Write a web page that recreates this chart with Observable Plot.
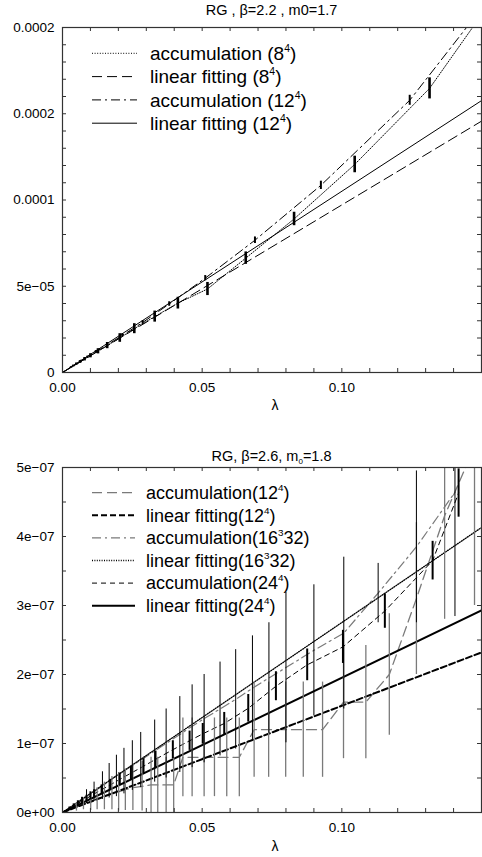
<!DOCTYPE html>
<html><head><meta charset="utf-8">
<script src="https://cdn.jsdelivr.net/npm/d3@7"></script>
<script src="https://cdn.jsdelivr.net/npm/@observablehq/plot@0.6"></script>
<style>
body{margin:0;background:#fff;font-family:"Liberation Sans",Arial,sans-serif}
#c svg{display:block}
</style>
</head><body><div id="c"></div>
<script>
// ---------- Top panel: RG, beta=2.2, m0=1.7 ----------
const lam8  = [0, 0.0031, 0.0039, 0.0050, 0.0063, 0.0079, 0.0100, 0.0127, 0.0160, 0.0205, 0.0257, 0.0330, 0.0413, 0.0519, 0.0656, 0.0829, 0.1046, 0.1314, 0.1660];
const acc8  = [0, 3.0e-6, 3.8e-6, 4.9e-6, 6.1e-6, 7.7e-6, 9.7e-6, 1.23e-5, 1.56e-5, 2.0e-5, 2.54e-5, 3.24e-5, 4.02e-5, 4.84e-5, 6.63e-5, 8.9e-5, 1.206e-4, 1.647e-4, 2.44e-4];
const err8  = [0, 0.4e-6, 0.5e-6, 0.6e-6, 0.8e-6, 1.0e-6, 1.2e-6, 1.5e-6, 1.8e-6, 2.5e-6, 2.9e-6, 3.2e-6, 3.4e-6, 3.8e-6, 3.6e-6, 3.9e-6, 4.8e-6, 6.1e-6, 7e-6];
const lam12 = [0, 0.0037, 0.0049, 0.0066, 0.0089, 0.0119, 0.0160, 0.0214, 0.0287, 0.0382, 0.0511, 0.0689, 0.0925, 0.1243, 0.1668];
const acc12 = [0, 3.7e-6, 4.9e-6, 6.6e-6, 8.9e-6, 1.2e-5, 1.6e-5, 2.15e-5, 2.9e-5, 3.97e-5, 5.47e-5, 7.67e-5, 1.085e-4, 1.578e-4, 2.46e-4];
const err12 = [0, 0.3e-6, 0.4e-6, 0.5e-6, 0.6e-6, 0.7e-6, 0.8e-6, 1.0e-6, 1.1e-6, 1.3e-6, 1.5e-6, 1.9e-6, 2.4e-6, 2.9e-6, 3.5e-6];
const fitLamTop = [0, 0.15];
const fit8Top   = [0, 1.457e-4];
const fit12Top  = [0, 1.576e-4];
const topYTicks = [0, 5e-5, 1e-4, 1.5e-4, 2e-4];
const topYTickLabels = ["0", "5e\u221205", "0.0001", "0.0002", "0.0002"];

// ---------- Bottom panel: RG, beta=2.6, m0=1.8 ----------
const lamB12 = [0, 0.0050, 0.0075, 0.0101, 0.0124, 0.0150, 0.0177, 0.0201, 0.0225, 0.0252, 0.0285, 0.0317, 0.0341, 0.0371, 0.0398, 0.0431, 0.0464, 0.0507, 0.0544, 0.0588, 0.0633, 0.0686, 0.0738, 0.0799, 0.0862, 0.0931, 0.1006, 0.1086, 0.1170, 0.1267, 0.1368, 0.1475];
const accB12 = [0, 0.8e-8, 1.2e-8, 1.6e-8, 2.0e-8, 2.4e-8, 2.8e-8, 3.0e-8, 3.3e-8, 3.6e-8, 3.8e-8, 4e-8, 4e-8, 4e-8, 4e-8, 8e-8, 8e-8, 8e-8, 8e-8, 8e-8, 8e-8, 12e-8, 12e-8, 12e-8, 12e-8, 12e-8, 16e-8, 16e-8, 20e-8, 31e-8, 43e-8, 53e-8];
const errB12 = [0, 0.6e-8, 0.8e-8, 1.3e-8, 1.6e-8, 2.0e-8, 2.4e-8, 2.8e-8, 3.0e-8, 3.3e-8, 3.6e-8, 4e-8, 4e-8, 4e-8, 4e-8, 5.7e-8, 5.7e-8, 5.7e-8, 5.7e-8, 5.7e-8, 5.7e-8, 6.9e-8, 6.9e-8, 6.9e-8, 6.9e-8, 6.9e-8, 8.2e-8, 8.2e-8, 8.8e-8, 11e-8, 15e-8, 23e-8];
const lamB16 = [0, 0.0086, 0.0113, 0.0143, 0.0167, 0.0193, 0.0220, 0.0250, 0.0280, 0.0330, 0.0371, 0.0420, 0.0464, 0.0507, 0.0564, 0.0620, 0.0680, 0.0739, 0.0800, 0.0900, 0.1007, 0.1130, 0.1267, 0.1405];
const accB16 = [0, 2.3e-8, 3.0e-8, 3.9e-8, 4.6e-8, 5.3e-8, 6.0e-8, 6.8e-8, 7.6e-8, 8.9e-8, 1.0e-7, 1.13e-7, 1.25e-7, 1.36e-7, 1.5e-7, 1.64e-7, 1.8e-7, 1.95e-7, 2.1e-7, 2.35e-7, 2.6e-7, 3.18e-7, 3.85e-7, 4.64e-7];
const errB16 = [0, 1.0e-8, 1.4e-8, 2.0e-8, 2.5e-8, 3.0e-8, 3.3e-8, 3.6e-8, 4.0e-8, 4.5e-8, 5.0e-8, 5.5e-8, 6.0e-8, 6.4e-8, 6.8e-8, 7.2e-8, 7.6e-8, 8.0e-8, 10.9e-8, 9.5e-8, 11e-8, 4.3e-8, 11e-8, 18e-8];
const lamB24 = [0, 0.0025, 0.0040, 0.0055, 0.0070, 0.0086, 0.0100, 0.0113, 0.0140, 0.0171, 0.0205, 0.0245, 0.0290, 0.0333, 0.0395, 0.0455, 0.0502, 0.0579, 0.0665, 0.0764, 0.0876, 0.1004, 0.1154, 0.1325, 0.1418];
const accB24 = [0, 0.6e-8, 0.95e-8, 1.3e-8, 1.7e-8, 2.0e-8, 2.4e-8, 2.7e-8, 3.3e-8, 4.0e-8, 4.8e-8, 5.7e-8, 6.7e-8, 7.7e-8, 9.1e-8, 10.4e-8, 11.4e-8, 12.9e-8, 15.1e-8, 18.3e-8, 21.4e-8, 24.0e-8, 29.2e-8, 36.5e-8, 46.3e-8];
const errB24 = [0, 0.2e-8, 0.3e-8, 0.4e-8, 0.5e-8, 0.5e-8, 0.6e-8, 0.6e-8, 0.7e-8, 0.8e-8, 0.9e-8, 1.0e-8, 1.1e-8, 1.2e-8, 1.3e-8, 1.4e-8, 1.5e-8, 1.6e-8, 2.0e-8, 2.1e-8, 2.3e-8, 2.4e-8, 2.5e-8, 2.8e-8, 3.5e-8];
const fitLamBot = [0, 0.15];
const fitB12 = [0, 2.32e-7];
const fitB16 = [0, 4.13e-7];
const fitB24 = [0, 2.93e-7];
const botYTicks = [0, 1e-7, 2e-7, 3e-7, 4e-7, 5e-7];
const botYTickLabels = ["0e+00", "1e\u221207", "2e\u221207", "3e\u221207", "4e\u221207", "5e\u221207"];

const xTicks = [0, 0.05, 0.10];
const xTickLabels = ["0.00", "0.05", "0.10"];

// ---------- helpers ----------
const rows = (xs, ys, es) => xs.map((x, i) => ({x, y: ys[i], e: es ? es[i] : 0}));
const FONT = "Liberation Sans, Arial, Helvetica, sans-serif";

function panel(cfg) {
  const W = 482, ML = 62, MR = 1;
  const FW = W - ML - MR, FH = cfg.height - cfg.marginTop - cfg.marginBottom;
  const xMinor = d3.range(0, 0.1501, 0.01);
  const yMinor = d3.range(cfg.yDomain[0], cfg.yDomain[1] * 1.0001, cfg.yMinorStep);
  const marks = [];
  for (const s of cfg.series) {
    marks.push(Plot.line(s.data, {x: "x", y: "y", stroke: s.stroke, strokeWidth: s.lw, strokeDasharray: s.dash, clip: true}));
  }
  for (const s of cfg.series) {
    if (!s.bar) continue;
    marks.push(Plot.ruleX(s.data.filter(d => d.e > 0), {x: "x", y1: d => d.y - d.e, y2: d => d.y + d.e, stroke: s.bar.stroke, strokeWidth: s.bar.lw, clip: true}));
  }
  const axisColor = "#333";
  marks.push(
    Plot.tickX(xMinor, {x: d => d, insetTop: FH - 4, stroke: axisColor}),
    Plot.tickX(xMinor, {x: d => d, insetBottom: FH - 4, stroke: axisColor}),
    Plot.tickY(yMinor, {y: d => d, insetRight: FW - 4, stroke: axisColor}),
    Plot.tickY(yMinor, {y: d => d, insetLeft: FW - 4, stroke: axisColor}),
    Plot.frame({stroke: axisColor, strokeWidth: 1.2}),
    Plot.text(xTicks, {x: d => d, text: (d, i) => xTickLabels[i], frameAnchor: "bottom", lineAnchor: "middle", dy: 15, fontSize: 13.5}),
    Plot.text(cfg.yTicks, {y: d => d, text: (d, i) => cfg.yTickLabels[i], frameAnchor: "left", textAnchor: "end", dx: -8, fontSize: 13.5}),
    Plot.text(["\u03bb"], {text: d => d, frameAnchor: "bottom", lineAnchor: "middle", dy: cfg.lambdaDy, dx: 3, fontSize: 14})
  );
  const svg = Plot.plot({
    width: W, height: cfg.height,
    marginLeft: ML, marginRight: MR, marginTop: cfg.marginTop, marginBottom: cfg.marginBottom,
    x: {domain: [0, 0.15], axis: null},
    y: {domain: cfg.yDomain, axis: null},
    style: {fontFamily: FONT, background: "white", color: "black", overflow: "visible"},
    marks
  });
  const s = d3.select(svg);
  // title
  const t = s.append("text").attr("x", ML + FW / 2).attr("y", cfg.titleY).attr("dy", "0.35em")
    .attr("text-anchor", "middle").attr("font-size", 14.5).attr("font-family", FONT).attr("fill", "black");
  for (const p of cfg.title) {
    const sp = t.append("tspan").text(p.t);
    if (p.sub) sp.attr("font-size", 8).attr("dy", 3);
    if (p.after) sp.attr("dy", -3);
  }
  // legend
  const g = s.append("g").attr("font-family", FONT).attr("font-size", cfg.legend.fs).attr("text-anchor", "start");
  cfg.legend.entries.forEach((e, i) => {
    const y = cfg.legend.y0 + i * cfg.legend.dy;
    g.append("line").attr("x1", cfg.legend.x1).attr("x2", cfg.legend.x2).attr("y1", y).attr("y2", y)
      .attr("stroke", e.stroke).attr("stroke-width", e.lw).attr("stroke-dasharray", e.dash || null);
    const tx = g.append("text").attr("x", cfg.legend.tx).attr("y", y).attr("dy", "0.35em").attr("fill", "black");
    tx.append("tspan").text(e.pre);
    tx.append("tspan").attr("dy", -8).attr("font-size", cfg.legend.fs * 0.55).text(e.sup);
    tx.append("tspan").attr("dy", 8).text(e.post);
  });
  return svg;
}

// ---------- styles ----------
const DOT = "1,1.6", LDASH = "10,5", DASHDOT = "9,4,2,4", SDASH = "6,3", TDASH = "5,4", FDOT = "1,1.4";

const topSvg = panel({
  height: 428, marginTop: 27, marginBottom: 56, lambdaDy: 33,
  yDomain: [0, 2e-4], yMinorStep: 1e-5, yTicks: topYTicks, yTickLabels: topYTickLabels,
  titleY: 10, title: [{t: "RG , \u03b2=2.2 , m0=1.7"}],
  series: [
    {data: rows(lam8, acc8, err8), stroke: "black", lw: 1, dash: DOT, bar: {stroke: "black", lw: 2.6}},
    {data: rows(fitLamTop, fit8Top), stroke: "black", lw: 1, dash: LDASH},
    {data: rows(lam12, acc12, err12), stroke: "black", lw: 1, dash: DASHDOT, bar: {stroke: "black", lw: 2}},
    {data: rows(fitLamTop, fit12Top), stroke: "black", lw: 1, dash: null}
  ],
  legend: {x1: 92, x2: 137, tx: 150, y0: 53.3, dy: 23.3, fs: 19, entries: [
    {pre: "accumulation (8", sup: "4", post: ")", stroke: "black", lw: 1, dash: DOT},
    {pre: "linear fitting (8", sup: "4", post: ")", stroke: "black", lw: 1, dash: LDASH},
    {pre: "accumulation (12", sup: "4", post: ")", stroke: "black", lw: 1, dash: DASHDOT},
    {pre: "linear fitting (12", sup: "4", post: ")", stroke: "black", lw: 1, dash: null}
  ]}
});

const GRAY = "#7a7a7a";
const botSvg = panel({
  height: 429, marginTop: 39, marginBottom: 45, lambdaDy: 34,
  yDomain: [0, 5e-7], yMinorStep: 5e-8, yTicks: botYTicks, yTickLabels: botYTickLabels,
  titleY: 28, title: [{t: "RG, \u03b2=2.6, m"}, {t: "0", sub: true}, {t: "=1.8", after: true}],
  series: [
    {data: rows(lamB12, accB12, errB12), stroke: GRAY, lw: 1.3, dash: LDASH, bar: {stroke: GRAY, lw: 1.3}},
    {data: rows(fitLamBot, fitB12), stroke: "black", lw: 2, dash: SDASH},
    {data: rows(lamB16, accB16, errB16), stroke: GRAY, lw: 1.2, dash: DASHDOT, bar: {stroke: "black", lw: 1}},
    {data: rows(fitLamBot, fitB16), stroke: "black", lw: 1.3, dash: FDOT},
    {data: rows(lamB24, accB24, errB24), stroke: "black", lw: 1, dash: TDASH, bar: {stroke: "black", lw: 2}},
    {data: rows(fitLamBot, fitB24), stroke: "black", lw: 2, dash: null}
  ],
  legend: {x1: 92, x2: 135, tx: 146, y0: 64.7, dy: 22.6, fs: 18, entries: [
    {pre: "accumulation(12", sup: "4", post: ")", stroke: GRAY, lw: 1.3, dash: LDASH},
    {pre: "linear fitting(12", sup: "4", post: ")", stroke: "black", lw: 2, dash: SDASH},
    {pre: "accumulation(16", sup: "3", post: "32)", stroke: GRAY, lw: 1.3, dash: DASHDOT},
    {pre: "linear fitting(16", sup: "3", post: "32)", stroke: "black", lw: 1.3, dash: FDOT},
    {pre: "accumulation(24", sup: "4", post: ")", stroke: "black", lw: 1, dash: TDASH},
    {pre: "linear fitting(24", sup: "4", post: ")", stroke: "black", lw: 2, dash: null}
  ]}
});

document.getElementById("c").append(topSvg, botSvg);
</script></body></html>
